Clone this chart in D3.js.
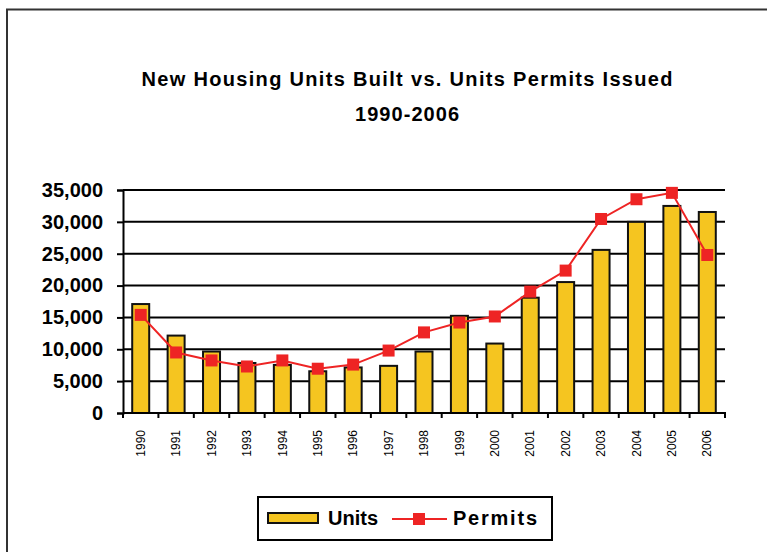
<!DOCTYPE html>
<html>
<head>
<meta charset="utf-8">
<script src="https://cdnjs.cloudflare.com/ajax/libs/d3/7.8.5/d3.min.js"></script>
<style>
    body { margin: 0; background: #fff; }
    text { font-family: "Liberation Sans", Arial, sans-serif; }
</style>
</head>
<body>
<div id="mydiv"></div>
<script>
var years = ["1990", "1991", "1992", "1993", "1994", "1995", "1996", "1997", "1998",
    "1999", "2000", "2001", "2002", "2003", "2004", "2005", "2006"];
var units = [17100, 12150, 9650, 7850, 7550, 6550, 7150, 7400, 9650,
    15250, 10900, 18100, 20550, 25600, 30000, 32500, 31550];
var permits = [15400, 9500, 8250, 7300, 8250, 6950, 7600, 9800, 12650,
    14200, 15150, 19050, 22350, 30450, 33550, 34550, 24800];
var yTicks = [0, 5000, 10000, 15000, 20000, 25000, 30000, 35000];

var overAllWidth = 767;
var overAllHeight = 552;

function main() {
    drawChart();
}

function drawChart() {
    var svg = d3.select('#mydiv')
        .append('svg')
        .attr('width', overAllWidth)
        .attr('height', overAllHeight)

    // outer frame of the chart area (runs off right / bottom)
    svg.append('path')
        .attr('d', 'M7,560 V9.5 H780')
        .attr('fill', 'none')
        .attr('stroke', '#333')
        .attr('stroke-width', 2)

    svg.append('text')
        .attr('x', 407)
        .attr('y', 86)
        .attr('text-anchor', 'middle')
        .attr('font-size', 20)
        .attr('font-weight', 'bold')
        .attr('textLength', 531)
        .attr('lengthAdjust', 'spacing')
        .text('New Housing Units Built vs. Units Permits Issued')

    svg.append('text')
        .attr('x', 407)
        .attr('y', 121)
        .attr('text-anchor', 'middle')
        .attr('font-size', 20)
        .attr('font-weight', 'bold')
        .attr('textLength', 104)
        .attr('lengthAdjust', 'spacing')
        .text('1990-2006')

    var left = 123, right = 725, top = 190, bottom = 413;

    var x = d3.scaleBand()
        .domain(years)
        .range([left, right])
        .paddingInner(0.52)
        .paddingOuter(0.26)

    var y = d3.scaleLinear()
        .domain([0, 35000])
        .range([bottom, top])

    // gridlines
    svg.append('g')
        .selectAll('line')
        .data(yTicks.slice(1))
        .enter()
        .append('line')
        .attr('x1', left)
        .attr('x2', right)
        .attr('y1', function (d) { return y(d); })
        .attr('y2', function (d) { return y(d); })
        .attr('stroke', '#000')
        .attr('stroke-width', 2)

    var yAxis = svg.append('g')
        .attr('transform', 'translate(' + left + ',0)')
        .call(d3.axisLeft(y)
            .tickValues(yTicks)
            .tickSize(6)
            .tickPadding(14)
            .tickFormat(d3.format(',')))

    yAxis.select('.domain').attr('stroke-width', 2)
    yAxis.selectAll('.tick line').attr('stroke-width', 2)
    yAxis.selectAll('text')
        .attr('font-size', 20)
        .attr('font-weight', 'bold')
        .attr('fill', '#000')

    // bars
    svg.append('g')
        .selectAll('rect')
        .data(units)
        .enter()
        .append('rect')
        .attr('x', function (d, i) { return x(years[i]); })
        .attr('y', function (d) { return y(d); })
        .attr('width', x.bandwidth())
        .attr('height', function (d) { return bottom - y(d); })
        .attr('fill', '#F5C520')
        .attr('stroke', '#111')
        .attr('stroke-width', 2)

    // x axis with ticks between categories
    var bounds = years.map(function (d) { return x(d) - x.step() * x.paddingInner() / 2; });
    bounds.push(right);

    svg.append('line')
        .attr('x1', left)
        .attr('x2', right + 1)
        .attr('y1', bottom)
        .attr('y2', bottom)
        .attr('stroke', '#000')
        .attr('stroke-width', 2)

    svg.append('g')
        .selectAll('line')
        .data(bounds)
        .enter()
        .append('line')
        .attr('x1', function (d) { return d; })
        .attr('x2', function (d) { return d; })
        .attr('y1', bottom)
        .attr('y2', bottom + 5)
        .attr('stroke', '#000')
        .attr('stroke-width', 2)

    svg.append('g')
        .selectAll('text')
        .data(years)
        .enter()
        .append('text')
        .attr('transform', function (d) {
            return 'translate(' + (x(d) + x.bandwidth() / 2) + ',430) rotate(-90)';
        })
        .attr('text-anchor', 'end')
        .attr('dy', '0.35em')
        .attr('font-size', 12)
        .text(function (d) { return d; })

    // permits line
    var line = d3.line()
        .x(function (d, i) { return x(years[i]) + x.bandwidth() / 2; })
        .y(function (d) { return y(d); })

    svg.append('path')
        .datum(permits)
        .attr('d', line)
        .attr('fill', 'none')
        .attr('stroke', '#EE2424')
        .attr('stroke-width', 2)

    svg.append('g')
        .selectAll('rect')
        .data(permits)
        .enter()
        .append('rect')
        .attr('x', function (d, i) { return x(years[i]) + x.bandwidth() / 2 - 6; })
        .attr('y', function (d) { return y(d) - 6; })
        .attr('width', 12)
        .attr('height', 12)
        .attr('fill', '#EE2424')

    // legend
    var legend = svg.append('g')

    legend.append('rect')
        .attr('x', 258)
        .attr('y', 497)
        .attr('width', 294)
        .attr('height', 43)
        .attr('fill', '#fff')
        .attr('stroke', '#000')
        .attr('stroke-width', 2)

    legend.append('rect')
        .attr('x', 268)
        .attr('y', 513)
        .attr('width', 50)
        .attr('height', 10)
        .attr('fill', '#F5C520')
        .attr('stroke', '#111')
        .attr('stroke-width', 2)

    legend.append('text')
        .attr('x', 328)
        .attr('y', 525)
        .attr('font-size', 20)
        .attr('font-weight', 'bold')
        .text('Units')

    legend.append('line')
        .attr('x1', 392)
        .attr('x2', 447)
        .attr('y1', 519)
        .attr('y2', 519)
        .attr('stroke', '#EE2424')
        .attr('stroke-width', 2)

    legend.append('rect')
        .attr('x', 413)
        .attr('y', 513)
        .attr('width', 12)
        .attr('height', 12)
        .attr('fill', '#EE2424')

    legend.append('text')
        .attr('x', 453)
        .attr('y', 525)
        .attr('font-size', 20)
        .attr('font-weight', 'bold')
        .attr('textLength', 84)
        .attr('lengthAdjust', 'spacing')
        .text('Permits')
}

main();
</script>
</body>
</html>
